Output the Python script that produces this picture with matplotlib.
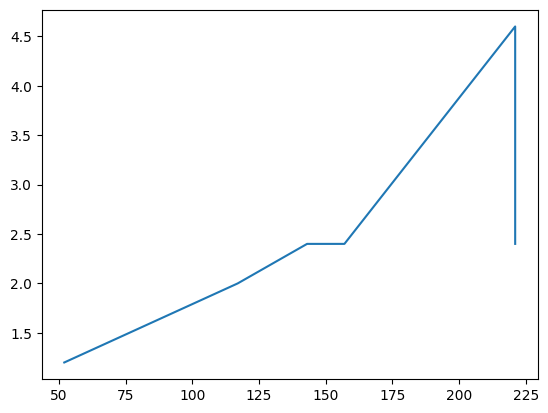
import matplotlib
matplotlib.use('Agg')
import matplotlib.pyplot as plt

# values
x_vals = [52, 117, 143, 157, 221, 221]
y_vals = [1.2, 2.0, 2.4, 2.4, 4.6, 2.4]

fig, ax = plt.subplots(figsize=(6.4, 4.8), dpi=100)
ax.plot(x_vals, y_vals)

fig.savefig('out.png', bbox_inches='tight')
